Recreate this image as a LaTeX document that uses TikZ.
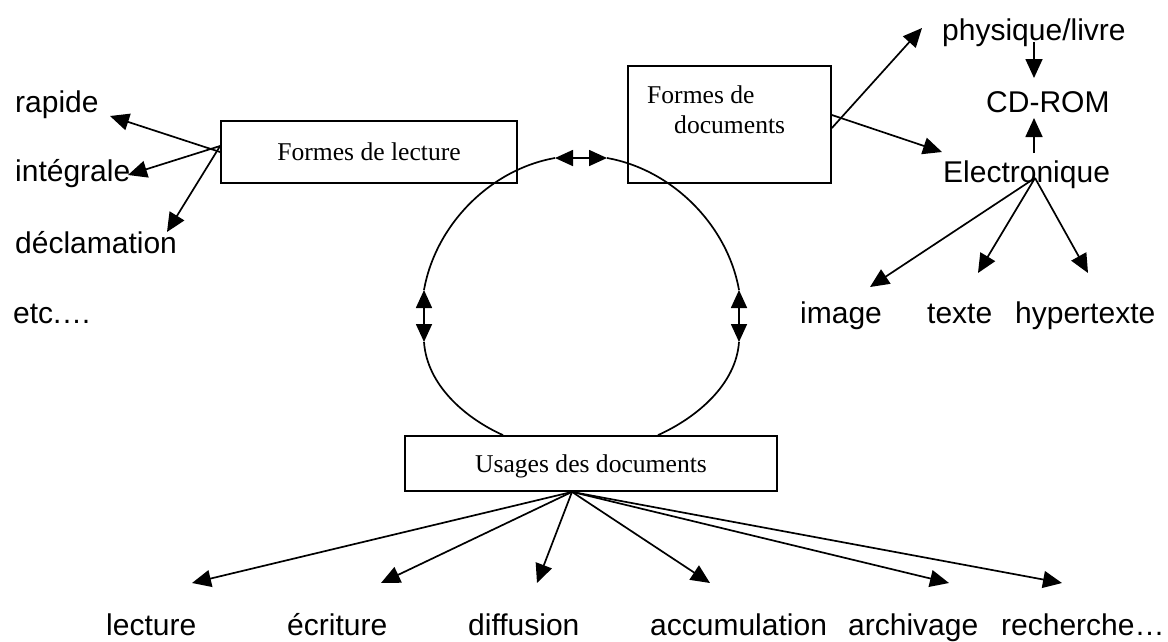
\documentclass[tikz,border=0pt]{standalone}
\usepackage{fontspec}
\setmainfont{Liberation Serif}
\newfontfamily\labfont{Liberation Sans}
\usetikzlibrary{arrows.meta}

\tikzset{
  box/.style={draw, line width=1.8pt, fill=white, inner sep=0pt, text depth=0pt,
    font=\fontsize{25.6}{30.7}\selectfont},
  boxtext/.style={inner sep=0pt, anchor=base west, font=\fontsize{25.6}{30.7}\selectfont},
  lab/.style={inner sep=0pt, anchor=base west, font=\labfont\fontsize{30}{36}\selectfont},
  arr/.style={-{Triangle[length=19pt,width=17pt]}, line width=1.7pt},
  darr/.style={{Triangle[length=18pt,width=16pt]}-{Triangle[length=18pt,width=16pt]}, line width=1.7pt},
  ring/.style={line width=1.7pt}
}

\begin{document}
\begin{tikzpicture}[x=1pt,y=1pt,yscale=-1,xscale=1]
\path[use as bounding box] (0,0) rectangle (1168,641);

% Boxes
\node[box, minimum width=296pt, minimum height=62pt] (lecture) at (369,152) {Formes de lecture};
\node[box, minimum width=203pt, minimum height=117pt] (docs) at (729.5,124.5) {};
\node[boxtext] (docsA) at (647,103) {Formes de};
\node[boxtext] (docsB) at (674,133) {documents};
\node[box, minimum width=372pt, minimum height=55pt] (usages) at (591,463.5) {Usages des documents};

% Text Nodes (left)
\node[lab] (rapide) at (15,112) {rapide};
\node[lab] (integrale) at (15,181) {intégrale};
\node[lab] (declam) at (15,253) {déclamation};
\node[lab] (etc) at (13,323) {etc.…};

% Text Nodes (right)
\node[lab] (physique) at (942,40) {physique/livre};
\node[lab] (cdrom) at (986,112) {CD-ROM};
\node[lab] (electro) at (943,182) {Electronique};
\node[lab] (image) at (800,323) {image};
\node[lab] (texte) at (927,323) {texte};
\node[lab] (hyper) at (1015,323) {hypertexte};

% Text Nodes (bottom)
\node[lab] (lect) at (106,635) {lecture};
\node[lab] (ecrit) at (287,635) {écriture};
\node[lab] (diffu) at (468,635) {diffusion};
\node[lab] (accum) at (650,635) {accumulation};
\node[lab] (archiv) at (848,635) {archivage};
\node[lab] (recher) at (1001,635) {recherche…};

% arrow ends
\coordinate (rapide-in) at (110,116);
\coordinate (integrale-in) at (128,175);
\coordinate (declam-in) at (167,232);
\coordinate (physique-in) at (922,28);
\coordinate (electro-in) at (942,152);
\coordinate (physique-out) at (1034,42);
\coordinate (cdrom-top) at (1034,78);
\coordinate (electro-up) at (1034,153);
\coordinate (cdrom-bot) at (1034,118);
\coordinate (efan) at (1035,178);
\coordinate (image-in) at (870,287);
\coordinate (texte-in) at (978,273);
\coordinate (hyper-in) at (1088,273);
\coordinate (ufan) at ([xshift=-19pt]usages.south);
\coordinate (lect-in) at (192,583);
\coordinate (ecrit-in) at (381,583);
\coordinate (diffu-in) at (537,583);
\coordinate (accum-in) at (710,583);
\coordinate (archiv-in) at (949,583);
\coordinate (recher-in) at (1062,583);

% ring ends
\coordinate (tl) at (555,158);
\coordinate (tr) at (607,158);
\coordinate (lt) at (424,290);
\coordinate (lb) at (424,342);
\coordinate (rt) at (739,290);
\coordinate (rb) at (739,342);
\coordinate (ul) at ([xshift=-88pt]usages.north);
\coordinate (ur) at ([xshift=67pt]usages.north);

% Ring
\draw[ring] (lt) .. controls (435.5,225) and (490,169.5) .. (tl);
\draw[ring] (tr) .. controls (672,169.5) and (727.5,225) .. (rt);
\draw[ring] (lb) .. controls (427,385) and (465,418) .. (ul);
\draw[ring] (rb) .. controls (736,385) and (696,418) .. (ur);
\draw[darr] (tl) -- (tr);
\draw[darr] (lt) -- (lb);
\draw[darr] (rt) -- (rb);

% Straight Lines (lecture)
\draw[arr] (lecture.west) -- (rapide-in);
\draw[arr] ([yshift=-6pt]lecture.west) -- (integrale-in);
\draw[arr] ([yshift=-6pt]lecture.west) -- (declam-in);

% Straight Lines (documents)
\draw[arr] ([yshift=3.5pt]docs.east) -- (physique-in);
\draw[arr] ([yshift=-9.5pt]docs.east) -- (electro-in);
\draw[arr] (physique-out) -- (cdrom-top);
\draw[arr] (electro-up) -- (cdrom-bot);
\draw[arr] (efan) -- (image-in);
\draw[arr] (efan) -- (texte-in);
\draw[arr] (efan) -- (hyper-in);

% Straight Lines (usages)
\foreach \t in {lect-in,ecrit-in,diffu-in,accum-in,archiv-in,recher-in}
  \draw[arr] (ufan) -- (\t);

\end{tikzpicture}
\end{document}
